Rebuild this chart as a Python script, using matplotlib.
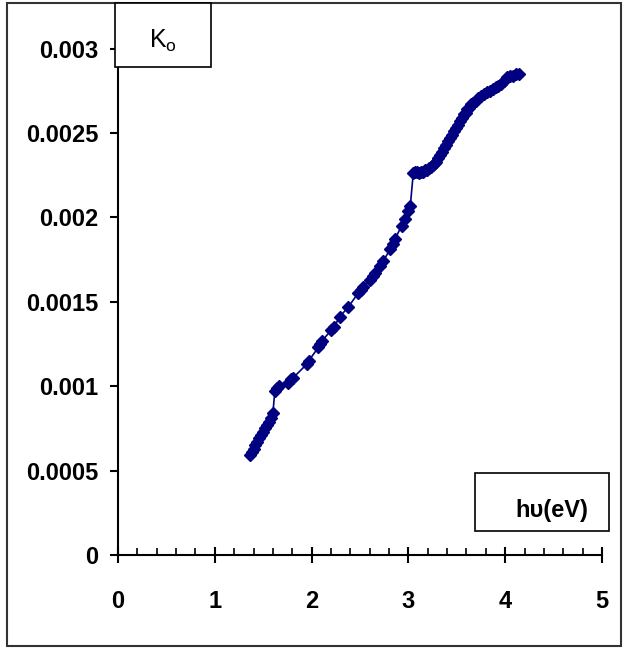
import matplotlib
matplotlib.use('Agg')
import matplotlib.pyplot as plt
from matplotlib.patches import Rectangle
from matplotlib.ticker import MultipleLocator

plt.rcParams['font.family'] = ['Liberation Sans', 'DejaVu Sans']

# photon energy (eV) and extinction coefficient K0
energy = [1.36, 1.38, 1.40, 1.42, 1.44, 1.46, 1.48, 1.50, 1.52, 1.54, 1.56, 1.58, 1.60,
          1.62, 1.64, 1.66, 1.76, 1.79, 1.81, 1.95, 1.97, 2.07, 2.09, 2.11, 2.20, 2.23,
          2.29, 2.38, 2.48, 2.51, 2.53, 2.60, 2.63, 2.65, 2.71, 2.74, 2.81, 2.84, 2.86,
          2.93, 2.96, 3.00, 3.02, 3.05, 3.07, 3.09, 3.11, 3.13, 3.15, 3.17, 3.19, 3.21,
          3.23, 3.25, 3.27, 3.29, 3.31, 3.33, 3.35, 3.37, 3.39, 3.41, 3.43, 3.45, 3.47,
          3.49, 3.51, 3.53, 3.55, 3.57, 3.59, 3.61, 3.63, 3.65, 3.67, 3.70, 3.72, 3.75,
          3.78, 3.81, 3.84, 3.87, 3.90, 3.93, 3.96, 3.99, 4.02, 4.05, 4.08, 4.11, 4.14]
k0 = [0.00059, 0.00061, 0.00063, 0.00065, 0.00067, 0.00069, 0.00071, 0.00073, 0.00075,
      0.00077, 0.00079, 0.00081, 0.00084, 0.00097, 0.00099, 0.00100, 0.00102, 0.00104,
      0.00105, 0.00113, 0.00115, 0.00123, 0.00125, 0.00127, 0.00133, 0.00135, 0.00141,
      0.00147, 0.00155, 0.00157, 0.00159, 0.00163, 0.00165, 0.00167, 0.00171, 0.00174,
      0.00181, 0.00184, 0.00187, 0.00195, 0.00199, 0.00204, 0.00207, 0.00226, 0.00227,
      0.00227, 0.00226, 0.00227, 0.00227, 0.00228, 0.00228, 0.00229, 0.00230, 0.00231,
      0.00232, 0.00233, 0.00235, 0.00237, 0.00239, 0.00241, 0.00243, 0.00245, 0.00247,
      0.00249, 0.00251, 0.00253, 0.00255, 0.00257, 0.00259, 0.00261, 0.00262, 0.00264,
      0.00265, 0.00267, 0.00268, 0.00269, 0.00271, 0.00272, 0.00273, 0.00274, 0.00275,
      0.00276, 0.00277, 0.00278, 0.00279, 0.00281, 0.00283, 0.00284, 0.00284, 0.00285,
      0.00285]

yticks = [0, 0.0005, 0.001, 0.0015, 0.002, 0.0025, 0.003]
ytick_labels = ['0', '0.0005', '0.001', '0.0015', '0.002', '0.0025', '0.003']

fig = plt.figure(figsize=(6.25, 6.5), dpi=100)
ax = fig.add_axes([0.1888, 0.1462, 0.7744, 0.8492])

ax.plot(energy, k0, color='#000080', lw=1.2, marker='D', markersize=6.5,
        markeredgewidth=1)

ax.set_xlim(0, 5)
ax.set_ylim(0, 0.00327)
ax.set_yticks(yticks)
ax.set_yticklabels(ytick_labels)
ax.xaxis.set_major_locator(MultipleLocator(1))
ax.xaxis.set_minor_locator(MultipleLocator(0.2))

for s in ['top', 'right']:
    ax.spines[s].set_visible(False)
for s in ['left', 'bottom']:
    ax.spines[s].set_linewidth(1.5)

ax.tick_params(axis='x', which='major', direction='inout', length=11, width=1.5,
               pad=20, labelsize=17)
ax.tick_params(axis='x', which='minor', direction='in', length=5, width=1.2)
ax.tick_params(axis='y', direction='out', length=6, width=1.5, pad=8, labelsize=17)
for lbl in ax.get_xticklabels() + ax.get_yticklabels():
    lbl.set_fontweight('bold')

# label boxes
fig.patches.append(Rectangle((115 / 625, 1 - 67 / 650), 96 / 625, 64 / 650,
                             transform=fig.transFigure, fill=True, fc='white',
                             ec='black', lw=1.2, zorder=5))
fig.text(163 / 625, 1 - 41 / 650, r'K$_\mathregular{o}$', ha='center', va='center',
         fontsize=18, zorder=6)

fig.patches.append(Rectangle((475 / 625, 1 - 531 / 650), 134 / 625, 58 / 650,
                             transform=fig.transFigure, fill=True, fc='white',
                             ec='black', lw=1.2, zorder=5))
fig.text(552 / 625, 1 - 511 / 650, 'hυ(eV)', ha='center', va='center',
         fontsize=17, fontweight='bold', zorder=6)

# outer frame
fig.patches.append(Rectangle((7 / 625, 1 - 646 / 650), 614 / 625, 643 / 650,
                             transform=fig.transFigure, fill=False,
                             ec='#333333', lw=1.5))

fig.savefig('out.png', dpi=100)
